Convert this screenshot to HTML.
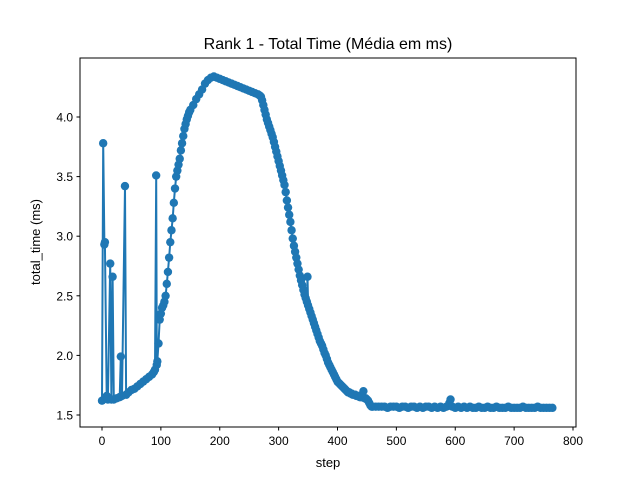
<!DOCTYPE html>
<html><head><meta charset="utf-8"><style>body{margin:0;background:#fff}svg{display:block}</style></head>
<body>
<svg id="chart" width="640" height="480" xmlns="http://www.w3.org/2000/svg" font-family="Liberation Sans, DejaVu Sans, sans-serif">
<rect width="640" height="480" fill="#fff"/>
<text x="328" y="49" text-anchor="middle" font-size="16">Rank 1 - Total Time (Média em ms)</text>
<text x="328" y="467" text-anchor="middle" font-size="13">step</text>
<text transform="translate(40,242) rotate(-90)" text-anchor="middle" font-size="13">total_time (ms)</text>
<g id="plot"></g>
<rect x="80" y="58" width="496" height="369" fill="none" stroke="#000" stroke-width="1"/>
</svg>
<script>
const steps = [0,2,4,5,8,10,14,16,18,20,25,30,32,34,39,41,45,50,55,60,65,70,75,80,85,88,90,92,93,
94,96,98,100,102,104,106,108,110,112,114,116,118,120,122,124,126,128,130,132,134,136,138,140,142,144,146,148,150,
155,160,165,170,175,180,185,190,195,200,205,210,215,220,225,230,235,240,245,250,255,260,265,268,
270,272,274,276,278,280,282,284,286,288,290,292,294,296,298,300,302,304,306,308,310,312,314,316,318,320,322,324,326,328,330,332,334,336,338,340,342,344,346,348,349,350,352,354,356,358,360,362,364,366,368,370,372,374,376,378,380,382,384,386,388,390,392,394,396,398,400,402,404,406,408,410,412,414,416,418,420,422,424,426,428,430,432,434,436,438,440,442,444,446,448,450,452,454,456,458,460,
465,470,475,480,485,490,495,500,505,510,515,520,525,530,535,540,545,550,555,560,565,570,575,580,585,590,592,595,600,605,610,615,620,625,630,635,640,645,650,655,660,665,670,675,680,685,690,695,700,705,710,715,720,725,730,735,740,745,750,755,760,765];
const values = [1.62,3.78,2.93,2.95,1.66,1.63,2.77,1.63,2.66,1.63,1.64,1.65,1.99,1.66,3.42,1.67,1.69,1.71,1.72,1.74,1.76,1.78,1.8,1.82,1.84,1.86,1.88,3.51,1.92,
1.95,2.1,2.3,2.35,2.4,2.42,2.45,2.5,2.6,2.7,2.82,2.95,3.05,3.15,3.28,3.4,3.5,3.55,3.6,3.65,3.72,3.78,3.84,3.9,3.94,3.98,4.01,4.04,4.06,
4.1,4.15,4.19,4.23,4.28,4.31,4.33,4.34,4.33,4.32,4.31,4.3,4.29,4.28,4.27,4.26,4.25,4.24,4.23,4.22,4.21,4.2,4.19,4.18,
4.17,4.14,4.1,4.06,4.02,3.98,3.95,3.92,3.89,3.86,3.83,3.79,3.75,3.71,3.67,3.63,3.59,3.55,3.51,3.47,3.43,3.37,3.3,3.24,3.18,3.12,3.05,2.98,2.92,2.87,2.82,2.77,2.72,2.67,2.63,2.59,2.55,2.51,2.48,2.45,2.66,2.42,2.39,2.36,2.33,2.3,2.27,2.24,2.21,2.18,2.15,2.12,2.1,2.08,2.05,2.02,2.0,1.97,1.94,1.92,1.9,1.88,1.86,1.84,1.82,1.8,1.78,1.77,1.76,1.75,1.74,1.73,1.72,1.71,1.7,1.69,1.69,1.68,1.68,1.67,1.67,1.67,1.66,1.66,1.66,1.65,1.65,1.65,1.7,1.64,1.64,1.63,1.62,1.6,1.58,1.57,1.57,
1.57,1.57,1.57,1.57,1.56,1.57,1.57,1.57,1.56,1.57,1.57,1.56,1.57,1.57,1.56,1.57,1.56,1.57,1.57,1.56,1.57,1.56,1.57,1.56,1.57,1.6,1.63,1.57,1.56,1.57,1.56,1.57,1.56,1.57,1.56,1.56,1.57,1.56,1.56,1.57,1.56,1.56,1.57,1.56,1.56,1.56,1.57,1.56,1.56,1.56,1.56,1.57,1.56,1.56,1.56,1.56,1.57,1.56,1.56,1.56,1.56,1.56];
const xTicks = [0,100,200,300,400,500,600,700,800];
const yTicks = [1.5,2.0,2.5,3.0,3.5,4.0];
const X = s => 102 + s*(471/800);
const Y = v => 415 - (v-1.5)*119.2;
const NS='http://www.w3.org/2000/svg';
const g=document.getElementById('plot');
function mk(t,a){const e=document.createElementNS(NS,t);for(const k in a)e.setAttribute(k,a[k]);return e;}
xTicks.forEach(t=>{
  const l=mk('line',{x1:X(t),x2:X(t),y1:427,y2:430.5,stroke:'#000'});
  
  
  g.appendChild(l);
  const tx=mk('text',{x:X(t),y:445,'text-anchor':'middle','font-size':'12'});
  tx.textContent=t;
  
  
  g.appendChild(tx);
});
yTicks.forEach(t=>{
  const l=mk('line',{x1:76.5,x2:80,y1:Y(t),y2:Y(t),stroke:'#000'});
  
  
  g.appendChild(l);
  const tx=mk('text',{x:73,y:Y(t)+4.5,'text-anchor':'end','font-size':'12'});
  tx.textContent=t.toFixed(1);
  
  
  g.appendChild(tx);
});
const pts=steps.map((s,i)=>X(s).toFixed(1)+','+Y(values[i]).toFixed(1)).join(' ');
const line=mk('polyline',{points:pts,fill:'none',stroke:'#1f77b4','stroke-width':'2','stroke-linejoin':'round'});


g.appendChild(line);
steps.forEach((s,i)=>{
  const c=mk('circle',{cx:X(s),cy:Y(values[i]),r:4.2,fill:'#1f77b4'});
  
  
  g.appendChild(c);
});
</script>
</body></html>
